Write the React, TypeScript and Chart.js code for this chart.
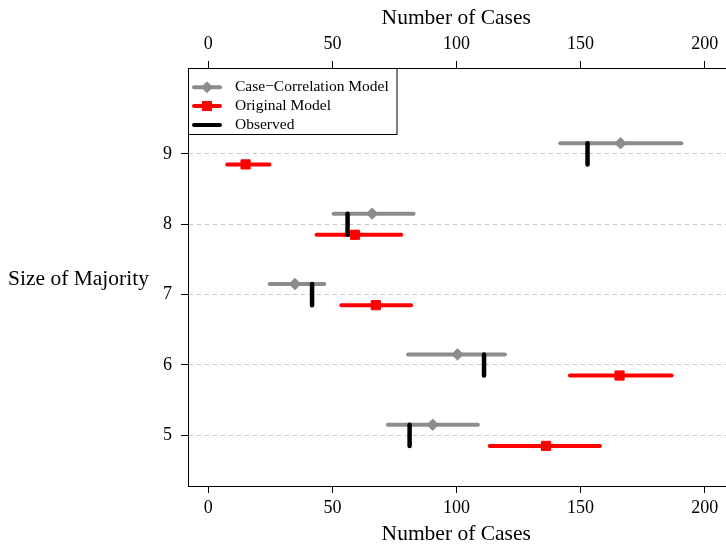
import React, { useEffect, useRef } from 'react';
import { Chart, registerables } from 'chart.js';

Chart.register(...registerables);

// ---- data ----
const majoritySizes = [5, 6, 7, 8, 9];
const ccLow = [72.4, 80.5, 24.7, 50.5, 141.8];
const ccMid = [90.4, 100.4, 34.9, 66.0, 166.1];
const ccHigh = [108.6, 119.5, 46.7, 82.7, 190.6];
const origLow = [113.4, 145.7, 53.6, 43.6, 7.6];
const origMid = [136.1, 165.7, 67.5, 59.1, 15.0];
const origHigh = [157.8, 186.7, 81.7, 77.7, 24.6];
const observed = [81.1, 111.1, 41.8, 56.1, 152.8];
const xTickValues = [0, 50, 100, 150, 200];
const yTickValues = [5, 6, 7, 8, 9];
const legendLabels = ['Case\u2212Correlation Model', 'Original Model', 'Observed'];
const xTitle = 'Number of Cases';
const yTitle = 'Size of Majority';

// ---- style ----
const FONT = "'Liberation Serif', 'DejaVu Serif', serif";
const GRAY = '#8c8c8c';
const RED = '#ff0000';
const BLACK = '#000000';
const OFF = 0.15;

function segment(points: { x: number; y: number }[], color: string, width: number) {
  return {
    data: points,
    showLine: true,
    borderColor: color,
    backgroundColor: color,
    borderWidth: width,
    borderCapStyle: 'round',
    pointRadius: 0,
    pointHoverRadius: 0,
    fill: false,
    tension: 0,
  };
}

function markers(xs: number[], dy: number, color: string, style: string, radius: number) {
  return {
    data: xs.map((x, i) => ({ x, y: majoritySizes[i] + dy })),
    showLine: false,
    pointStyle: style,
    pointRadius: radius,
    pointHoverRadius: radius,
    pointBackgroundColor: color,
    pointBorderColor: color,
    pointBorderWidth: 1,
  };
}

function buildDatasets() {
  const ds: any[] = [];
  // Chart.js draws dataset index 0 last (on top)
  majoritySizes.forEach((s, i) => {
    ds.push(segment([{ x: observed[i], y: s - OFF }, { x: observed[i], y: s + OFF }], BLACK, 4.5));
  });
  ds.push(markers(origMid, -OFF, RED, 'rect', 6.5));
  majoritySizes.forEach((s, i) => {
    ds.push(segment([{ x: origLow[i], y: s - OFF }, { x: origHigh[i], y: s - OFF }], RED, 4));
  });
  ds.push(markers(ccMid, OFF, GRAY, 'rectRot', 5.7));
  majoritySizes.forEach((s, i) => {
    ds.push(segment([{ x: ccLow[i], y: s + OFF }, { x: ccHigh[i], y: s + OFF }], GRAY, 4));
  });
  return ds;
}

const annotationPlugin = {
  id: 'annotations',
  afterDraw(chart: any) {
    const ctx = chart.ctx as CanvasRenderingContext2D;
    const a = chart.chartArea;
    ctx.save();
    // axis titles
    ctx.fillStyle = BLACK;
    ctx.font = `21.5px ${FONT}`;
    ctx.textAlign = 'center';
    ctx.textBaseline = 'alphabetic';
    const cx = (a.left + 724.5) / 2;
    ctx.fillText(xTitle, cx, 24);
    ctx.fillText(xTitle, cx, 540);
    ctx.textAlign = 'left';
    ctx.fillText(yTitle, 8, 285);

    // legend
    const lx = a.left;
    const ly = a.top;
    ctx.fillStyle = '#ffffff';
    ctx.fillRect(lx + 1, ly + 1, 207.5, 65);
    ctx.strokeStyle = BLACK;
    ctx.lineWidth = 1;
    ctx.strokeRect(Math.round(lx) + 0.5, Math.round(ly) + 0.5, 208.5, 66);
    const rows = [19.3, 38, 57];
    const colors = [GRAY, RED, BLACK];
    rows.forEach((ry, i) => {
      const y = ly + ry;
      ctx.strokeStyle = colors[i];
      ctx.lineWidth = 4;
      ctx.lineCap = 'round';
      ctx.beginPath();
      ctx.moveTo(lx + 6, y);
      ctx.lineTo(lx + 32, y);
      ctx.stroke();
      ctx.fillStyle = colors[i];
      const mx = lx + 19;
      if (i === 0) {
        ctx.beginPath();
        ctx.moveTo(mx - 6, y);
        ctx.lineTo(mx, y - 6);
        ctx.lineTo(mx + 6, y);
        ctx.lineTo(mx, y + 6);
        ctx.closePath();
        ctx.fill();
      } else if (i === 1) {
        ctx.fillRect(mx - 5, y - 5, 10, 10);
      }
      ctx.fillStyle = BLACK;
      ctx.font = `15.5px ${FONT}`;
      ctx.textAlign = 'left';
      ctx.textBaseline = 'middle';
      ctx.fillText(legendLabels[i], lx + 47, y);
    });
    ctx.restore();
  },
};

export default function App() {
  const canvasRef = useRef<HTMLCanvasElement | null>(null);

  useEffect(() => {
    if (!canvasRef.current) return;
    const tickFont = { family: FONT, size: 18 };
    const noPad = (scale: any) => {
      scale.paddingLeft = 0;
      scale.paddingRight = 0;
      scale.paddingTop = 0;
      scale.paddingBottom = 0;
    };
    const chart = new Chart(canvasRef.current, {
      type: 'scatter',
      data: { datasets: buildDatasets() },
      options: {
        animation: false,
        responsive: false,
        devicePixelRatio: 1,
        layout: { padding: 0, autoPadding: false },
        plugins: { legend: { display: false }, tooltip: { enabled: false } },
        events: [],
        scales: {
          x: {
            type: 'linear',
            position: 'bottom',
            min: -8.2,
            max: 208.6,
            afterBuildTicks: (scale: any) => {
              scale.ticks = xTickValues.map((v) => ({ value: v }));
            },
            afterFit: (scale: any) => {
              scale.height = 58;
              noPad(scale);
            },
            grid: { drawOnChartArea: false, drawTicks: true, tickLength: 7, color: BLACK, tickColor: BLACK },
            border: { display: true, color: BLACK, width: 1 },
            ticks: { font: tickFont, color: BLACK, padding: 4, maxRotation: 0, callback: (v: any) => String(v) },
          },
          x2: {
            type: 'linear',
            position: 'top',
            axis: 'x',
            min: -8.2,
            max: 208.6,
            afterBuildTicks: (scale: any) => {
              scale.ticks = xTickValues.map((v) => ({ value: v }));
            },
            afterFit: (scale: any) => {
              scale.height = 68;
              noPad(scale);
            },
            grid: { drawOnChartArea: false, drawTicks: true, tickLength: 7, color: BLACK, tickColor: BLACK },
            border: { display: true, color: BLACK, width: 1 },
            ticks: { font: tickFont, color: BLACK, padding: 6, maxRotation: 0, callback: (v: any) => String(v) },
          },
          y: {
            type: 'linear',
            position: 'left',
            min: 4.28,
            max: 10.22,
            afterBuildTicks: (scale: any) => {
              scale.ticks = yTickValues.map((v) => ({ value: v }));
            },
            afterFit: (scale: any) => {
              scale.width = 188;
              noPad(scale);
            },
            grid: {
              drawOnChartArea: true,
              drawTicks: true,
              tickLength: 7,
              color: '#c4c4c4',
              lineWidth: 1,
              tickColor: BLACK,
              tickBorderDash: [],
            },
            border: { display: true, color: BLACK, width: 1, dash: [4, 4] },
            ticks: { font: tickFont, color: BLACK, padding: 9, callback: (v: any) => String(v) },
          },
        },
      } as any,
      plugins: [annotationPlugin],
    });
    return () => chart.destroy();
  }, []);

  return (
    <div style={{ position: 'absolute', left: 0, top: 0, width: 726, height: 544, background: '#ffffff' }}>
      <canvas ref={canvasRef} width={726} height={544} style={{ display: 'block', width: 726, height: 544 }} />
    </div>
  );
}
